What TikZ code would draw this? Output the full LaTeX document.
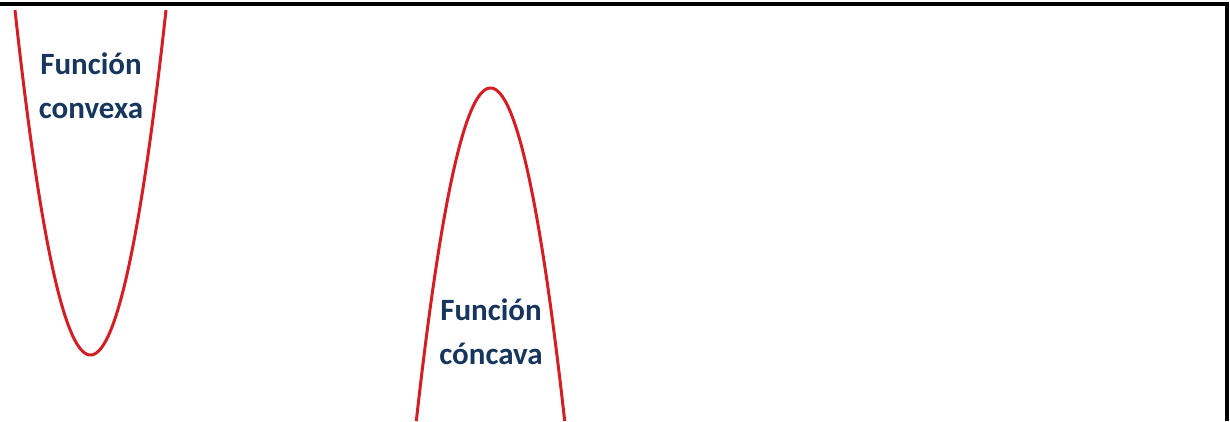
\documentclass[tikz,border=0pt]{standalone}
\usepackage{fontspec}
\usepackage{xcolor}
\definecolor{curvered}{RGB}{212,30,36}
\definecolor{labelblue}{RGB}{23,54,93}
\newfontfamily\labelfont{Carlito}
\usetikzlibrary{positioning}

\begin{document}
\begin{tikzpicture}[
  x=1pt, y=-1pt,
  curve/.style={line width=3pt, color=curvered, smooth},
  frame/.style={line width=3.2pt, color=black},
  lbl/.style={anchor=north, align=center, inner sep=0pt, text=labelblue, font=\labelfont\bfseries\fontsize{31}{43.5}\selectfont}
]
  \useasboundingbox (0,0) rectangle (1230,421);

  % marco recortado
  \draw[frame] (0,4) -- (1227,4) -- (1227,421);

  % funcion convexa
  \draw[curve, domain=15:166, samples=120] plot (\x, {355-0.0605*(\x-90.5)^2});
  \node[lbl] (convexa) at (91,53) {Funci\'on\\convexa};

  % funcion concava
  \draw[curve, domain=416.3:564.7, samples=120] plot (\x, {88+0.0605*(\x-490.5)^2});
  \node[lbl] (concava) at (491,299) {Funci\'on\\c\'oncava};
\end{tikzpicture}
\end{document}
